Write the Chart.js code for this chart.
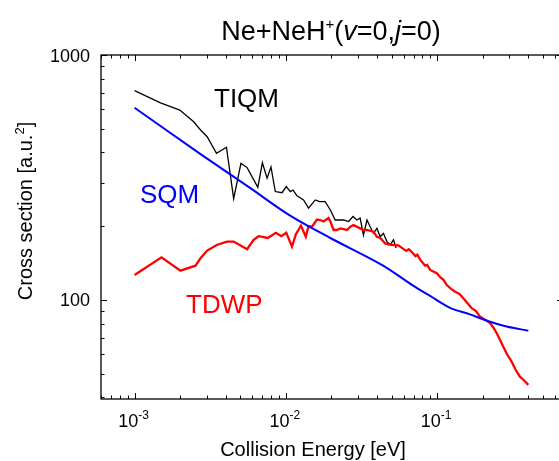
<!DOCTYPE html>
<html>
<head>
<meta charset="utf-8">
<script src="https://cdn.jsdelivr.net/npm/chart.js@4.4.1/dist/chart.umd.min.js"></script>
<style>
  html, body { margin: 0; padding: 0; background: #fff; overflow: hidden; }
  #wrap { width: 570px; height: 461px; }
</style>
</head>
<body>
<div id="wrap"><canvas id="myChart" width="570" height="461"></canvas></div>
<script>
// values (collision energy in eV, cross section in a.u.^2)
const tiqmEnergy = [0.001, 0.001485, 0.00199, 0.00246, 0.00273, 0.00302, 0.00348, 0.00405, 0.00452, 0.00505,
  0.00555, 0.00653, 0.0070, 0.00752, 0.00798, 0.00852, 0.00944, 0.01007, 0.0107, 0.01116, 0.01186, 0.0131,
  0.01413, 0.01566, 0.0167, 0.0182, 0.0197, 0.0212, 0.0241, 0.026, 0.0278, 0.0295, 0.031, 0.0326, 0.0344,
  0.0361, 0.038, 0.040, 0.0421, 0.0442, 0.0466, 0.049, 0.0515, 0.0536];
const tiqmSigma = [715, 638, 596, 534, 494, 464, 397, 420, 259, 361,
  347, 288, 363, 314, 349, 277, 274, 290, 277, 281, 266, 256,
  237, 256, 252, 252, 233, 212, 212, 209, 219, 212, 216, 184, 212,
  199, 187, 196, 181, 187, 173, 168, 176, 163];

const sqmEnergy = [0.001, 0.00273, 0.00583, 0.01055, 0.0197, 0.044, 0.0694, 0.0899, 0.122, 0.165, 0.207, 0.288, 0.401];
const sqmSigma = [609, 394, 286, 222, 179, 138, 114.4, 103.8, 92.8, 87.3, 82.8, 77.9, 74.9];

const tdwpEnergy = [0.001, 0.001507, 0.00201, 0.00253, 0.00273, 0.00302, 0.00352, 0.00409, 0.00452, 0.00555,
  0.00613, 0.00661, 0.0076, 0.00859, 0.00934, 0.01007, 0.01099, 0.01164, 0.0126, 0.01355, 0.01413, 0.0149,
  0.01607, 0.0169, 0.01776, 0.01917, 0.0197, 0.0207, 0.0218, 0.0229, 0.0254, 0.0267, 0.028, 0.031, 0.0326,
  0.0344, 0.038, 0.040, 0.0421, 0.0454, 0.049, 0.0555, 0.057, 0.0624, 0.065, 0.0681, 0.072, 0.074, 0.0773,
  0.0834, 0.086, 0.0899, 0.0995, 0.1062, 0.110, 0.1159, 0.1237, 0.1315, 0.140, 0.1491, 0.159, 0.1694, 0.181,
  0.192, 0.205, 0.224, 0.236, 0.248, 0.26, 0.274, 0.29, 0.311, 0.33, 0.353, 0.375, 0.401];
const tdwpSigma = [126.5, 149.3, 131.7, 138, 148, 159, 168, 173, 173, 161,
  176, 182, 179, 188, 182, 188, 165, 185, 201, 181, 200, 199,
  213, 212, 209, 216, 209, 193, 193, 196, 193, 199, 202, 196, 193,
  193, 190, 181, 179, 170, 168, 167, 165, 158.5, 161, 157, 151, 153, 146,
  138, 139, 132.6, 128.5, 123, 121, 115, 111, 108, 106, 101.6, 97, 92.5, 90,
  85.5, 83.5, 80.4, 77, 73.1, 69, 64.4, 60, 56, 52, 48.6, 47, 45];

const xTickValues = [0.001, 0.01, 0.1];
const xTickExps = ["-3", "-2", "-1"];
const yTickValues = [100, 1000];
const yTickLabels = ["100", "1000"];

function toPoints(xs, ys) {
  return xs.map(function (x, i) { return { x: x, y: ys[i] }; });
}

const FONT = '"Liberation Sans", Arial, sans-serif';

// frame, inward ticks, tick labels, titles and curve labels
const decorations = {
  id: 'decorations',
  afterDraw: function (chart) {
    const ctx = chart.ctx;
    const a = chart.chartArea;
    const xs = chart.scales.x, ys = chart.scales.y;
    ctx.save();
    ctx.strokeStyle = '#000';
    ctx.lineWidth = 1.3;
    ctx.strokeRect(a.left, a.top, a.right - a.left, a.bottom - a.top);

    ctx.lineWidth = 1;
    ctx.beginPath();
    for (let k = -4; k <= 0; k++) {
      for (let m = 1; m <= 9; m++) {
        const v = m * Math.pow(10, k);
        if (v < xs.min || v > xs.max) continue;
        const px = Math.round(xs.getPixelForValue(v)) + 0.5;
        const len = m === 1 ? 6 : 3.5;
        ctx.moveTo(px, a.bottom); ctx.lineTo(px, a.bottom - len);
        ctx.moveTo(px, a.top); ctx.lineTo(px, a.top + len);
      }
    }
    for (let k = 1; k <= 3; k++) {
      for (let m = 1; m <= 9; m++) {
        const v = m * Math.pow(10, k);
        if (v < ys.min || v > ys.max) continue;
        const py = Math.round(ys.getPixelForValue(v)) + 0.5;
        const len = m === 1 ? 6 : 3.5;
        ctx.moveTo(a.left, py); ctx.lineTo(a.left + len, py);
        ctx.moveTo(a.right, py); ctx.lineTo(a.right - len, py);
      }
    }
    ctx.stroke();

    ctx.fillStyle = '#000';
    ctx.textBaseline = 'alphabetic';
    // x tick labels 10^n
    xTickValues.forEach(function (v, i) {
      const px = xs.getPixelForValue(v);
      ctx.font = '18px ' + FONT;
      const w1 = ctx.measureText('10').width;
      ctx.font = '12px ' + FONT;
      const w2 = ctx.measureText(xTickExps[i]).width;
      const x0 = px - (w1 + w2) / 2 - 1;
      ctx.textAlign = 'left';
      ctx.font = '18px ' + FONT;
      ctx.fillText('10', x0, 427);
      ctx.font = '12px ' + FONT;
      ctx.fillText(xTickExps[i], x0 + w1, 419);
    });
    // y tick labels
    ctx.font = '18px ' + FONT;
    ctx.textAlign = 'right';
    yTickValues.forEach(function (v, i) {
      ctx.fillText(yTickLabels[i], 90, ys.getPixelForValue(v) + 6.5);
    });

    // x axis title
    ctx.font = '20px ' + FONT;
    ctx.textAlign = 'center';
    ctx.fillText('Collision Energy [eV]', 313, 456);

    // y axis title with superscript
    ctx.save();
    ctx.translate(31.5, 211);
    ctx.rotate(-Math.PI / 2);
    ctx.textAlign = 'left';
    ctx.font = '20px ' + FONT;
    const p1 = 'Cross section [a.u.';
    const wa = ctx.measureText(p1).width;
    const wc = ctx.measureText(']').width;
    ctx.font = '13px ' + FONT;
    const wb = ctx.measureText('2').width;
    let sx = -(wa + wb + wc) / 2;
    ctx.font = '20px ' + FONT;
    ctx.fillText(p1, sx, 0);
    ctx.font = '13px ' + FONT;
    ctx.fillText('2', sx + wa, -8);
    ctx.font = '20px ' + FONT;
    ctx.fillText(']', sx + wa + wb, 0);
    ctx.restore();

    // chart title: Ne+NeH+(v=0,j=0)
    const parts = [
      { t: 'Ne+NeH', f: '27px ' + FONT, dy: 0 },
      { t: '+', f: '15px ' + FONT, dy: -11 },
      { t: '(', f: '27px ' + FONT, dy: 0 },
      { t: 'v', f: 'italic 27px ' + FONT, dy: 0 },
      { t: '=0,', f: '27px ' + FONT, dy: 0 },
      { t: 'j', f: 'italic 27px ' + FONT, dy: 0 },
      { t: '=0)', f: '27px ' + FONT, dy: 0 }
    ];
    ctx.textAlign = 'left';
    let tw = 0;
    parts.forEach(function (p) { ctx.font = p.f; tw += ctx.measureText(p.t).width; });
    let tx = 331 - tw / 2;
    parts.forEach(function (p) {
      ctx.font = p.f;
      ctx.fillText(p.t, tx, 40 + p.dy);
      tx += ctx.measureText(p.t).width;
    });

    // curve labels
    ctx.font = '26px ' + FONT;
    ctx.fillStyle = '#000';
    ctx.fillText('TIQM', 214, 106.5);
    ctx.fillStyle = '#0000ff';
    ctx.fillText('SQM', 140, 202.5);
    ctx.fillStyle = '#ff0000';
    ctx.fillText('TDWP', 186, 313);
    ctx.restore();
  }
};

const ctx = document.getElementById('myChart').getContext('2d');

const myChart = new Chart(ctx, {
  type: 'scatter',
  data: {
    datasets: [
      {
        label: 'SQM',
        data: toPoints(sqmEnergy, sqmSigma),
        showLine: true,
        borderColor: '#0000ff',
        borderWidth: 2,
        pointRadius: 0,
        cubicInterpolationMode: 'monotone'
      },
      {
        label: 'TDWP',
        data: toPoints(tdwpEnergy, tdwpSigma),
        showLine: true,
        borderColor: '#ff0000',
        borderWidth: 2.3,
        pointRadius: 0,
        tension: 0
      },
      {
        label: 'TIQM',
        data: toPoints(tiqmEnergy, tiqmSigma),
        showLine: true,
        borderColor: '#000000',
        borderWidth: 1.3,
        pointRadius: 0,
        tension: 0
      }
    ]
  },
  options: {
    responsive: false,
    animation: false,
    events: [],
    layout: { padding: { left: 101, top: 55, right: 7, bottom: 62 } },
    plugins: {
      legend: { display: false },
      title: { display: false },
      tooltip: { enabled: false }
    },
    scales: {
      x: { type: 'logarithmic', min: 6.06e-4, max: 0.68, display: false },
      y: { type: 'logarithmic', min: 39.4, max: 1000, display: false }
    }
  },
  plugins: [decorations]
});
</script>
</body>
</html>
